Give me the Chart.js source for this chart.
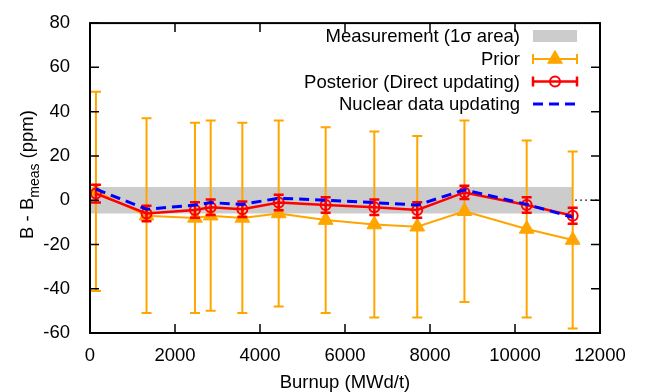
<!DOCTYPE html>
<html>
<head>
<meta charset="utf-8">
<script src="https://cdn.jsdelivr.net/npm/chart.js@4"></script>
<style>
html,body{margin:0;padding:0;background:#fff;}
#wrap{width:648px;height:392px;position:relative;}
</style>
</head>
<body>
<div id="wrap"><canvas id="c" width="648" height="392"></canvas></div>
<script>
// ---- data ----
const burnup    = [140, 1330, 2470, 2840, 3585, 4440, 5545, 6690, 7700, 8810, 10275, 11357];
const prior     = [4, -7, -8, -7, -8, -6, -9, -11, -12, -5, -13, -18];
const priorErr  = [45, 44, 43, 43, 43, 42, 42, 42, 41, 41, 40, 40];
const posterior = [3, -6, -4.4, -3.2, -4.1, -1, -2.2, -3.2, -4.4, 3.5, -2.2, -7];
const postErr   = [4, 3.5, 3.5, 3.5, 3.5, 3.5, 3.5, 3.5, 3.5, 3, 3.5, 3.6];
const nuclear   = [5, -4.1, -2.2, -1.1, -1.9, 0.9, 0, -1.1, -2.2, 4.7, -1.9, -7.7];
const bandX     = [0, 11357];
const bandUpper = [6, 6];
const bandLower = [-6, -6];
const xTicks    = [0, 2000, 4000, 6000, 8000, 10000, 12000];
const yTicks    = [-60, -40, -20, 0, 20, 40, 60, 80];

const FONT = '"Liberation Sans", Arial, Helvetica, sans-serif';
const FS = 18.5;
const pts = (xs, ys) => xs.map((x, i) => ({x: x, y: ys[i]}));

const deco = {
  id: 'deco',
  beforeDatasetsDraw(chart) {
    const {ctx, chartArea: a, scales: {y}} = chart;
    const y0 = y.getPixelForValue(0);
    ctx.save();
    ctx.strokeStyle = '#333';
    ctx.lineWidth = 1.2;
    ctx.setLineDash([2, 3]);
    ctx.beginPath(); ctx.moveTo(a.left, y0); ctx.lineTo(a.right, y0); ctx.stroke();
    ctx.restore();
  },
  afterDatasetDraw(chart, args) {
    const ds = chart.data.datasets[args.index];
    if (!ds.errors) return;
    const {ctx, scales: {x, y}} = chart;
    ctx.save();
    ctx.strokeStyle = ds.borderColor;
    ctx.lineWidth = ds.errWidth;
    ctx.setLineDash([]);
    ds.data.forEach((p, i) => {
      const e = ds.errors[i];
      const px = x.getPixelForValue(p.x);
      const yl = y.getPixelForValue(p.y - e);
      const yh = y.getPixelForValue(p.y + e);
      const c = ds.capHalf;
      ctx.beginPath();
      ctx.moveTo(px, yl); ctx.lineTo(px, yh);
      ctx.moveTo(px - c, yl); ctx.lineTo(px + c, yl);
      ctx.moveTo(px - c, yh); ctx.lineTo(px + c, yh);
      ctx.stroke();
    });
    ctx.restore();
  },
  afterDraw(chart) {
    const {ctx, chartArea: a, scales: {x, y}} = chart;
    ctx.save();
    // inward ticks (mirrored)
    ctx.strokeStyle = '#000';
    ctx.lineWidth = 1.5;
    ctx.beginPath();
    xTicks.forEach(v => {
      const px = x.getPixelForValue(v);
      ctx.moveTo(px, a.bottom); ctx.lineTo(px, a.bottom - 9);
      ctx.moveTo(px, a.top); ctx.lineTo(px, a.top + 9);
    });
    yTicks.forEach(v => {
      const py = y.getPixelForValue(v);
      ctx.moveTo(a.left, py); ctx.lineTo(a.left + 9, py);
      ctx.moveTo(a.right, py); ctx.lineTo(a.right - 9, py);
    });
    ctx.stroke();
    // frame
    ctx.lineWidth = 2;
    ctx.strokeRect(a.left, a.top, a.right - a.left, a.bottom - a.top);

    // legend
    const ds = chart.data.datasets;
    const rows = [ds[3], ds[2], ds[1], ds[0]];
    const textRight = 520, s0 = 533, s1 = 577, sm = (s0 + s1) / 2;
    const rowY = [36, 59, 81.5, 104];
    ctx.font = FS + 'px ' + FONT;
    ctx.textAlign = 'right';
    ctx.textBaseline = 'middle';
    rows.forEach((d, i) => {
      const ry = rowY[i];
      ctx.fillStyle = '#000';
      ctx.fillText(d.label, textRight, ry + 1);
      ctx.setLineDash([]);
      if (i === 0) {
        ctx.fillStyle = d.backgroundColor;
        ctx.fillRect(s0, ry - 6, s1 - s0, 12);
      } else if (i === 3) {
        ctx.strokeStyle = d.borderColor;
        ctx.lineWidth = d.borderWidth;
        ctx.setLineDash(d.borderDash);
        ctx.beginPath(); ctx.moveTo(s0, ry); ctx.lineTo(s1, ry); ctx.stroke();
        ctx.setLineDash([]);
      } else {
        ctx.strokeStyle = d.borderColor;
        ctx.lineWidth = d.borderWidth;
        ctx.beginPath();
        ctx.moveTo(s0, ry); ctx.lineTo(s1, ry);
        ctx.moveTo(s0, ry - 5); ctx.lineTo(s0, ry + 5);
        ctx.moveTo(s1, ry - 5); ctx.lineTo(s1, ry + 5);
        ctx.stroke();
        ctx.fillStyle = d.pointBackgroundColor;
        ctx.strokeStyle = d.borderColor;
        ctx.lineWidth = d.pointBorderWidth;
        ctx.beginPath();
        if (d.pointStyle === 'triangle') {
          const r = d.pointRadius;
          ctx.moveTo(sm, ry - r);
          ctx.lineTo(sm + r * 0.866, ry + r * 0.5);
          ctx.lineTo(sm - r * 0.866, ry + r * 0.5);
          ctx.closePath();
        } else {
          ctx.arc(sm, ry, d.pointRadius, 0, Math.PI * 2);
        }
        ctx.fill(); ctx.stroke();
      }
    });

    // y-axis title with subscript
    ctx.fillStyle = '#000';
    ctx.translate(33, 174.5);
    ctx.rotate(-Math.PI / 2);
    ctx.textAlign = 'left';
    ctx.textBaseline = 'alphabetic';
    const big = FS + 'px ' + FONT, small = '14px ' + FONT;
    const t1 = 'B - B', t2 = 'meas', t3 = ' (ppm)';
    ctx.font = big; const w1 = ctx.measureText(t1).width, w3 = ctx.measureText(t3).width;
    ctx.font = small; const w2 = ctx.measureText(t2).width;
    let sx = -(w1 + w2 + w3) / 2;
    ctx.font = big; ctx.fillText(t1, sx, 0); sx += w1;
    ctx.font = small; ctx.fillText(t2, sx, 5.5); sx += w2;
    ctx.font = big; ctx.fillText(t3, sx, 0);
    ctx.restore();
  }
};

new Chart(document.getElementById('c'), {
  type: 'line',
  data: {
    datasets: [
      {
        label: 'Nuclear data updating',
        data: pts(burnup, nuclear),
        borderColor: '#0000ff',
        borderWidth: 3,
        borderDash: [10, 6],
        pointRadius: 0,
        fill: false,
        order: 0
      },
      {
        label: 'Posterior (Direct updating)',
        data: pts(burnup, posterior),
        errors: postErr,
        errWidth: 2.5,
        capHalf: 5,
        borderColor: '#ff0000',
        borderWidth: 2.5,
        pointStyle: 'circle',
        pointRadius: 5,
        pointBorderWidth: 2,
        pointBorderColor: '#ff0000',
        pointBackgroundColor: 'rgba(0,0,0,0)',
        fill: false,
        order: 1
      },
      {
        label: 'Prior',
        data: pts(burnup, prior),
        errors: priorErr,
        errWidth: 2,
        capHalf: 5,
        borderColor: '#ffa500',
        borderWidth: 2,
        pointStyle: 'triangle',
        pointRadius: 8.5,
        pointBorderWidth: 1,
        pointBorderColor: '#ffa500',
        pointBackgroundColor: '#ffa500',
        fill: false,
        order: 2
      },
      {
        label: 'Measurement (1σ area)',
        data: pts(bandX, bandUpper),
        borderWidth: 0,
        borderColor: 'rgba(0,0,0,0)',
        backgroundColor: '#cccccc',
        pointRadius: 0,
        fill: '+1',
        order: 3
      },
      {
        label: '',
        data: pts(bandX, bandLower),
        borderWidth: 0,
        borderColor: 'rgba(0,0,0,0)',
        backgroundColor: '#cccccc',
        pointRadius: 0,
        fill: false,
        order: 4
      }
    ]
  },
  options: {
    responsive: false,
    animation: false,
    devicePixelRatio: 1,
    layout: {padding: {left: 0, right: 48, top: 15, bottom: 0}},
    plugins: {legend: {display: false}, tooltip: {enabled: false}},
    elements: {line: {tension: 0}},
    scales: {
      x: {
        type: 'linear',
        min: 0, max: 12000,
        afterBuildTicks: s => { s.ticks = xTicks.map(v => ({value: v})); },
        afterFit: s => { s.height = 59; },
        grid: {display: false},
        border: {display: false},
        ticks: {color: '#000', font: {family: FONT, size: FS}, padding: 4, maxRotation: 0,
                callback: v => String(v)},
        title: {display: true, text: 'Burnup (MWd/t)', color: '#000',
                font: {family: FONT, size: FS, lineHeight: 1}, padding: {top: 0, bottom: 0}}
      },
      y: {
        type: 'linear',
        min: -60, max: 80,
        afterBuildTicks: s => { s.ticks = yTicks.map(v => ({value: v})); },
        afterFit: s => { s.width = 90; },
        grid: {display: false},
        border: {display: false},
        ticks: {color: '#000', font: {family: FONT, size: FS}, padding: 12,
                callback: v => String(v)}
      }
    }
  },
  plugins: [deco]
});
</script>
</body>
</html>
